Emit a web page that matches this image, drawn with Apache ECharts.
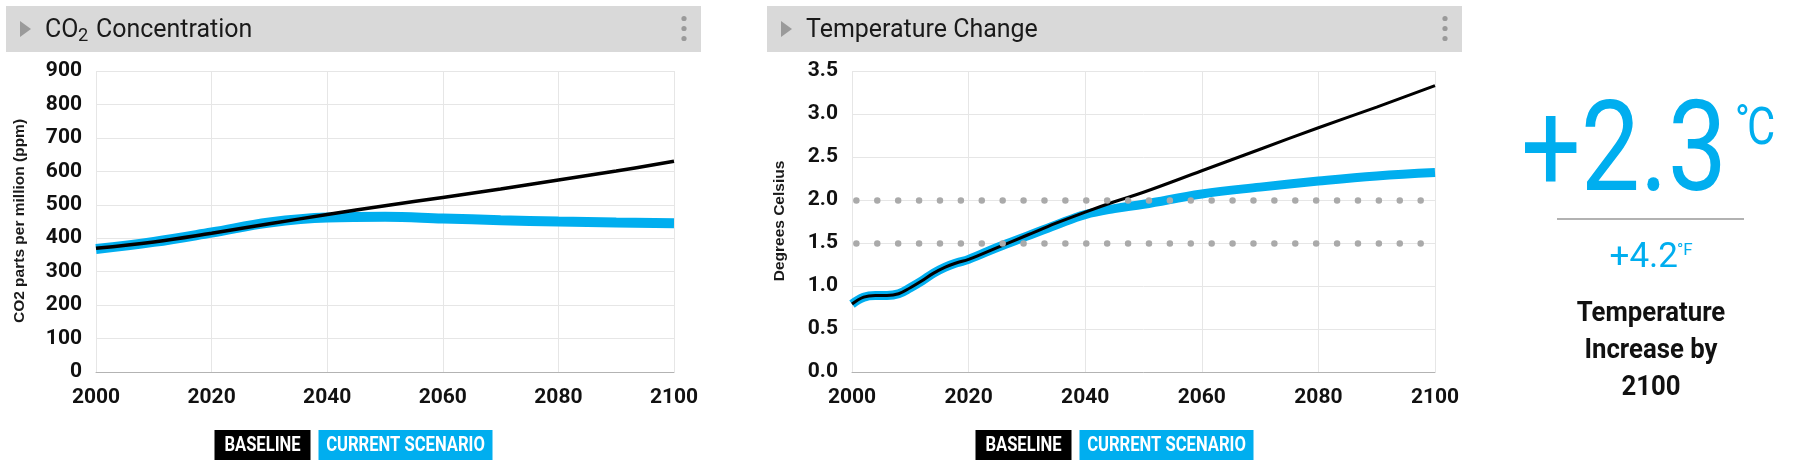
<!DOCTYPE html>
<html>
<head>
<meta charset="utf-8">
<title>CO2 and Temperature</title>
<script src="https://cdn.jsdelivr.net/npm/echarts@6/dist/echarts.min.js"></script>
<style>
  html, body { margin: 0; padding: 0; background: #fff; }
  #main { width: 1800px; height: 474px; }
</style>
</head>
<body>
<div id="main"></div>
<script>
// CO2 concentration (ppm)
var co2Years = [2000, 2010, 2020, 2030, 2040, 2050, 2060, 2070, 2080, 2090, 2100];
var co2Baseline = [370, 389, 415, 443, 471, 497, 522, 547, 574, 601, 630];
var co2Scenario = [368, 389, 417, 447, 462, 464, 459, 454, 450, 447, 445];

// temperature change (degrees C)
var tempYears = [2000, 2002, 2004, 2006, 2008, 2010, 2012, 2014, 2016, 2018, 2020, 2025, 2030, 2035, 2040, 2045, 2050, 2060, 2070, 2080, 2090, 2100];
var tempBaseline = [0.79, 0.87, 0.89, 0.89, 0.91, 0.98, 1.06, 1.15, 1.22, 1.27, 1.31, 1.45, 1.59, 1.73, 1.86, 1.98, 2.09, 2.34, 2.59, 2.84, 3.08, 3.33];
var tempScenario = [0.79, 0.87, 0.89, 0.89, 0.91, 0.98, 1.06, 1.15, 1.22, 1.27, 1.31, 1.45, 1.58, 1.71, 1.83, 1.90, 1.95, 2.07, 2.15, 2.22, 2.28, 2.32];

// reference levels drawn dotted
var tempTargets = [2.0, 1.5];

var BLUE = '#00aeef';
var FONT = 'Roboto, "Noto Sans", sans-serif';

function pairs(xs, ys) {
    return xs.map(function (x, i) { return [x, ys[i]]; });
}

var axisLabel = {
    fontFamily: FONT,
    fontWeight: 'bold',
    fontSize: 21,
    color: '#111'
};
var splitLine = { show: true, lineStyle: { color: '#e6e6e6', width: 1 } };

function xAxisFor(idx) {
    return {
        gridIndex: idx, type: 'value', min: 2000, max: 2100, interval: 20,
        axisLine: { show: true, lineStyle: { color: '#b3b3b3', width: 1 } },
        axisTick: { show: false },
        axisLabel: Object.assign({ margin: 15, formatter: function (v) { return String(v); } }, axisLabel),
        splitLine: splitLine
    };
}

// header bar of each panel
function header(left, width, title) {
    var els = [
        { type: 'rect', shape: { x: left, y: 6, width: width, height: 46 }, style: { fill: '#d9d9d9' } },
        { type: 'polygon', shape: { points: [[left + 14, 21], [left + 25, 29], [left + 14, 37]] }, style: { fill: '#9a9a9a' } }
    ];
    [18.5, 28.5, 38.5].forEach(function (cy) {
        els.push({ type: 'circle', shape: { cx: left + width - 17, cy: cy, r: 2.6 }, style: { fill: '#9a9a9a' } });
    });
    return els.concat(title);
}

function titleText(x, y, text, size) {
    return { type: 'text', x: x, y: y, scaleX: 0.96, style: { text: text, fontFamily: FONT, fontSize: size, fill: '#1a1a1a', align: 'left', verticalAlign: 'middle' } };
}

function legend(center) {
    var left = center - 139;
    var txt = function (cx, s) {
        return { type: 'text', x: cx, y: 446, scaleX: 0.83, style: { text: s, fontFamily: FONT, fontWeight: 'bold', fontSize: 20, fill: '#fff', align: 'center', verticalAlign: 'middle' } };
    };
    return [
        { type: 'rect', shape: { x: left, y: 430, width: 96, height: 30 }, style: { fill: '#000' } },
        txt(left + 48, 'BASELINE'),
        { type: 'rect', shape: { x: left + 104, y: 430, width: 174, height: 30 }, style: { fill: BLUE } },
        txt(left + 191, 'CURRENT SCENARIO')
    ];
}

function axisName(x, text) {
    return { type: 'text', x: x, y: 221, rotation: Math.PI / 2, style: { text: text, fontFamily: '"Liberation Sans", Arial, sans-serif', fontWeight: 'bold', fontSize: 15.5, fill: '#1a1a1a', align: 'center', verticalAlign: 'middle' } };
}

var graphic = []
    .concat(header(6, 695, [titleText(45, 30, 'CO', 26), titleText(78, 36, '2', 19), titleText(96, 30, 'Concentration', 26)]))
    .concat(header(767, 695, [titleText(806, 30, 'Temperature Change', 26)]))
    .concat(legend(353.5))
    .concat(legend(1114.5))
    .concat([
        axisName(20, 'CO2 parts per million (ppm)'),
        axisName(780, 'Degrees Celsius'),
        { type: 'text', x: 1727, y: 158, scaleX: 0.83, style: { text: '+2.3', fontFamily: FONT, fontWeight: 'normal', fontSize: 127, fill: BLUE, align: 'right', verticalAlign: 'middle' } },
        { type: 'text', x: 1735, y: 125, scaleX: 0.9, style: { text: '°', fontFamily: FONT, fontWeight: 'normal', fontSize: 44, fill: BLUE, align: 'left', verticalAlign: 'middle' } },
        { type: 'text', x: 1747, y: 131, scaleX: 0.85, style: { text: 'C', fontFamily: FONT, fontWeight: 'normal', fontSize: 51, fill: BLUE, align: 'left', verticalAlign: 'middle' } },
        { type: 'line', shape: { x1: 1557, y1: 219, x2: 1744, y2: 219 }, style: { stroke: '#999', lineWidth: 1.5 } },
        { type: 'text', x: 1678, y: 258, style: { text: '+4.2', fontFamily: FONT, fontSize: 35, fill: BLUE, align: 'right', verticalAlign: 'middle' } },
        { type: 'text', x: 1677, y: 251, style: { text: '°F', fontFamily: FONT, fontSize: 17, fill: BLUE, align: 'left', verticalAlign: 'middle' } },
        { type: 'text', x: 1651, y: 351, scaleX: 0.92, style: { text: 'Temperature\nIncrease by\n2100', fontFamily: FONT, fontWeight: 'bold', fontSize: 28, lineHeight: 37, fill: '#111', align: 'center', verticalAlign: 'middle' } }
    ]);

var myChart = echarts.init(document.getElementById('main'));

var option = {
    backgroundColor: '#fff',
    animation: false,
    grid: [
        { left: 96, right: 1126, top: 71, bottom: 102 },
        { left: 852, right: 365, top: 71, bottom: 102 }
    ],
    xAxis: [xAxisFor(0), xAxisFor(1)],
    yAxis: [
        {
            gridIndex: 0, type: 'value', min: 0, max: 900, interval: 100,
            axisLine: { show: false }, axisTick: { show: false },
            axisLabel: Object.assign({ margin: 14 }, axisLabel),
            splitLine: splitLine
        },
        {
            gridIndex: 1, type: 'value', min: 0, max: 3.5, interval: 0.5,
            axisLine: { show: false }, axisTick: { show: false },
            axisLabel: Object.assign({ margin: 14, formatter: function (v) { return v.toFixed(1); } }, axisLabel),
            splitLine: splitLine
        }
    ],
    series: [
        {
            name: 'Current Scenario', type: 'line', xAxisIndex: 0, yAxisIndex: 0, z: 2,
            smooth: 0.4, symbol: 'none', data: pairs(co2Years, co2Scenario),
            lineStyle: { color: BLUE, width: 10 }
        },
        {
            name: 'Baseline', type: 'line', xAxisIndex: 0, yAxisIndex: 0, z: 3,
            smooth: 0.4, symbol: 'none', data: pairs(co2Years, co2Baseline),
            lineStyle: { color: '#000', width: 3.5 }
        },
        {
            name: 'targets', type: 'line', xAxisIndex: 1, yAxisIndex: 1, z: 1,
            data: [], symbol: 'none',
            markLine: {
                silent: true, symbol: 'none', label: { show: false },
                lineStyle: { color: '#aaa', width: 6.5, type: [0, 20.9], cap: 'round' },
                data: tempTargets.map(function (t) { return [{ coord: [2000.75, t] }, { coord: [2098, t] }]; })
            }
        },
        {
            name: 'Current Scenario', type: 'line', xAxisIndex: 1, yAxisIndex: 1, z: 2,
            smooth: 0.4, symbol: 'none', data: pairs(tempYears, tempScenario),
            lineStyle: { color: BLUE, width: 9 }
        },
        {
            name: 'Baseline', type: 'line', xAxisIndex: 1, yAxisIndex: 1, z: 3,
            smooth: 0.4, symbol: 'none', data: pairs(tempYears, tempBaseline),
            lineStyle: { color: '#000', width: 3 }
        }
    ],
    graphic: graphic
};

myChart.setOption(option);
</script>
</body>
</html>
